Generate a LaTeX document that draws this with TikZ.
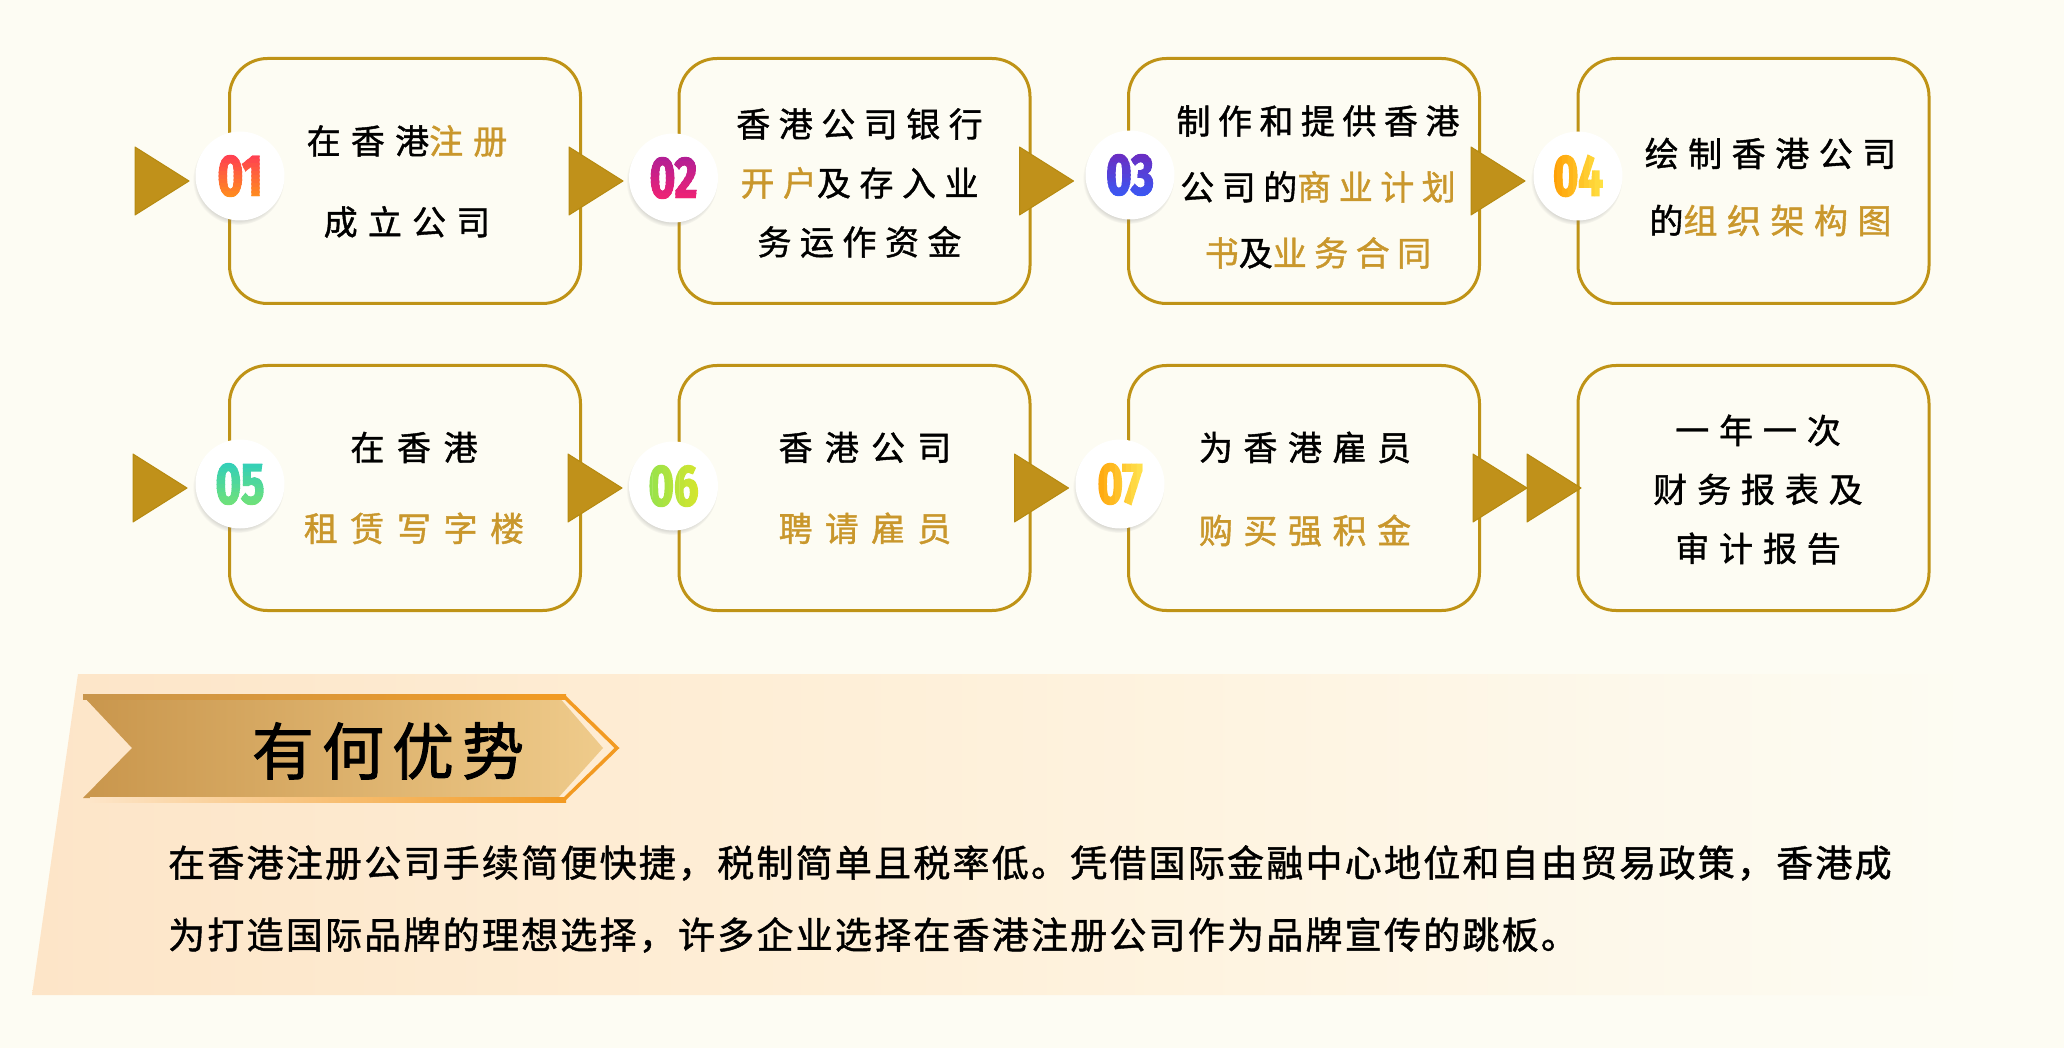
\documentclass[tikz,border=0pt]{standalone}
\usepackage{fontspec}
\setmainfont{Noto Sans CJK SC}[FakeBold=1.2, LetterSpace=6]
\newfontfamily\boxfont[FakeBold=1.2]{Noto Sans CJK SC}
\newfontfamily\titlefont[LetterSpace=13, FakeBold=1.5]{Noto Sans CJK SC}
\newfontfamily\numfont[FakeStretch=0.75, FakeBold=2.5]{Fira Sans}
\usetikzlibrary{calc, positioning, shadows}

\definecolor{PageBg}{HTML}{FDFCF3}
\definecolor{LineGold}{HTML}{BF9316}
\definecolor{ArrowGold}{HTML}{C0911A}
\definecolor{ArrowEdge}{HTML}{B68A10}
\definecolor{TextGold}{HTML}{C9972C}
\definecolor{PanelLeft}{HTML}{FDE5C8}
\definecolor{PanelMid}{HTML}{FEF1DB}
\definecolor{RibbonLeft}{HTML}{C9964C}
\definecolor{RibbonRight}{HTML}{EFCB8B}
\definecolor{RibbonEdge}{HTML}{F29A22}

\definecolor{NumA1}{HTML}{FF3A55} \definecolor{NumB1}{HTML}{FF8E1E}
\definecolor{NumA2}{HTML}{AE1F97} \definecolor{NumB2}{HTML}{F02274}
\definecolor{NumA3}{HTML}{6E2ABF} \definecolor{NumB3}{HTML}{3A58F3}
\definecolor{NumA4}{HTML}{FF9A00} \definecolor{NumB4}{HTML}{FFE84A}
\definecolor{NumA5}{HTML}{30CEBB} \definecolor{NumB5}{HTML}{72E277}
\definecolor{NumA6}{HTML}{8FE24F} \definecolor{NumB6}{HTML}{DCE62A}
\definecolor{NumA7}{HTML}{FF9C00} \definecolor{NumB7}{HTML}{FFEE5C}

\newcommand\gold[1]{\textcolor{TextGold}{#1}}

\tikzset{
    stepbox/.style={
        draw=LineGold, line width=3pt, fill=PageBg, rounded corners=38pt,
        minimum width=351pt, minimum height=245pt, inner sep=0pt
    },
    boxtext/.style 2 args={
        font=\boxfont\fontsize{34pt}{#1}\selectfont\addfontfeature{LetterSpace=#2},
        align=center, inner sep=0pt
    },
    numdisc/.style={
        circle, fill=white, minimum size=89pt, inner sep=0pt,
        circular drop shadow={shadow xshift=-1.5pt, shadow yshift=-3pt, opacity=0.4, shadow scale=1.03}
    },
    numtext/.style={font=\numfont\bfseries\fontsize{58pt}{58pt}\selectfont, inner sep=0pt},
    arrowtri/.style={fill=ArrowGold, draw=ArrowEdge, line width=1pt, line join=round}
}

% Numero en degradado vertical / horizontal, por franjas
\newcommand\vgradnum[4]{%
    \foreach \k in {0,...,11} {
        \pgfmathsetmacro\mix{100-\k*100/11}
        \begin{scope}
            \clip ($(#1)+(-40,-24+\k*4)$) rectangle ($(#1)+(40,-24+\k*4+4.4)$);
            \node[numtext, text=#3!\mix!#4] at (#1) {#2};
        \end{scope}
    }}
\newcommand\hgradnum[4]{%
    \foreach \k in {0,...,11} {
        \pgfmathsetmacro\mix{100-\k*100/11}
        \begin{scope}
            \clip ($(#1)+(-32+\k*5.4,-30)$) rectangle ($(#1)+(-32+\k*5.4+5.8,30)$);
            \node[numtext, text=#3!\mix!#4] at (#1) {#2};
        \end{scope}
    }}

\begin{document}
\begin{tikzpicture}[x=1pt, y=-1pt]
\useasboundingbox (0,0) rectangle (2064,1048);
\fill[PageBg] (0,0) rectangle (2064,1048);

% Panel de fondo
\shade[left color=PanelLeft, right color=PageBg, middle color=PanelMid]
    (78,674) -- (1972,674) -- (1972,995) -- (32,995) -- cycle;

% Cinta del titulo
\shade[left color=RibbonLeft, right color=RibbonRight]
    (83,696) -- (558,696) -- (603,748) -- (558,798) -- (83,798) -- (132,748) -- cycle;
\shade[left color=RibbonLeft, right color=RibbonEdge] (83,694) rectangle (566,699);
\shade[left color=PanelLeft, right color=RibbonEdge] (90,797) rectangle (566,802);
\draw[RibbonEdge, line width=3.5pt] (564,696.5) -- (617,748) -- (564,799.5);
\node[font=\titlefont\fontsize{62pt}{62pt}\selectfont] (title) at (388,751) {有何优势};

% Texto del panel
\node[anchor=west, align=left, inner sep=0pt, font=\fontsize{37pt}{72pt}\selectfont] (body) at (168,899)
    {在香港注册公司手续简便快捷，税制简单且税率低。凭借国际金融中心地位和自由贸易政策，香港成\\
     为打造国际品牌的理想选择，许多企业选择在香港注册公司作为品牌宣传的跳板。};

% Cajas de pasos
\node[stepbox] (b1) at (405,181) {};
\node[stepbox, right=95.5pt of b1] (b2) {};
\node[stepbox, right=95.5pt of b2] (b3) {};
\node[stepbox, right=95.5pt of b3] (b4) {};
\node[stepbox, below=59pt of b1] (b5) {};
\node[stepbox, right=95.5pt of b5] (b6) {};
\node[stepbox, right=95.5pt of b6] (b7) {};
\node[stepbox, right=95.5pt of b7] (b8) {};

% Textos de cada paso
\node[boxtext={81pt}{30}] (t1) at ($(b1)+(2,0.5)$) {在香港\gold{注册}\\成立公司};
\node[boxtext={59pt}{25}] (t2) at ($(b2)+(5,2)$) {香港公司银行\\\gold{开户}及存入业\\务运作资金};
\node[boxtext={66pt}{22}] (t3) at ($(b3)+(14,6)$)
    {制作和提供香港\\公司的\gold{商业计划}\\\gold{书}及\gold{业务合同}};
\node[boxtext={67pt}{28}] (t4) at ($(b4)+(17,6)$) {绘制香港公司\\的\gold{组织架构图}};
\node[boxtext={81pt}{37}] (t5) at ($(b5)+(9,0)$) {在香港\\\gold{租赁写字楼}};
\node[boxtext={81pt}{36}] (t6) at ($(b6)+(10.5,0)$) {香港公司\\\gold{聘请雇员}};
\node[boxtext={83pt}{31}] (t7) at ($(b7)+(1,1)$) {为香港雇员\\\gold{购买强积金}};
\node[boxtext={59pt}{29}] (t8) at ($(b8)+(4.5,1.5)$) {一年一次\\财务报表及\\审计报告};

% Flechas triangulares
\foreach \a/\dx in {b1.west/-93, b1.east/-13, b2.east/-12, b3.east/-10,
                    b5.west/-95, b5.east/-14, b6.east/-17, b7.east/-8, b7.east/46}
    \filldraw[arrowtri] ($(\a)+(\dx,0)$) -- ++(0,-34) -- ++(54,34) -- ++(-54,34) -- cycle;

% Discos con numero
\node[numdisc] (c1) at ($(b1.west)+(12,-5)$) {};
\node[numdisc] (c2) at ($(b2.west)+(-4,-3)$) {};
\node[numdisc] (c3) at ($(b3.west)+(3,-6)$) {};
\node[numdisc] (c4) at ($(b4.west)+(1.5,-5)$) {};
\node[numdisc] (c5) at ($(b5.west)+(12,-4)$) {};
\node[numdisc] (c6) at ($(b6.west)+(-4,-2)$) {};
\node[numdisc] (c7) at ($(b7.west)+(-7,-4)$) {};

\vgradnum{c1}{01}{NumA1}{NumB1}
\vgradnum{c2}{02}{NumA2}{NumB2}
\vgradnum{c3}{03}{NumA3}{NumB3}
\hgradnum{c4}{04}{NumA4}{NumB4}
\vgradnum{c5}{05}{NumA5}{NumB5}
\hgradnum{c6}{06}{NumA6}{NumB6}
\hgradnum{c7}{07}{NumA7}{NumB7}

\end{tikzpicture}
\end{document}
